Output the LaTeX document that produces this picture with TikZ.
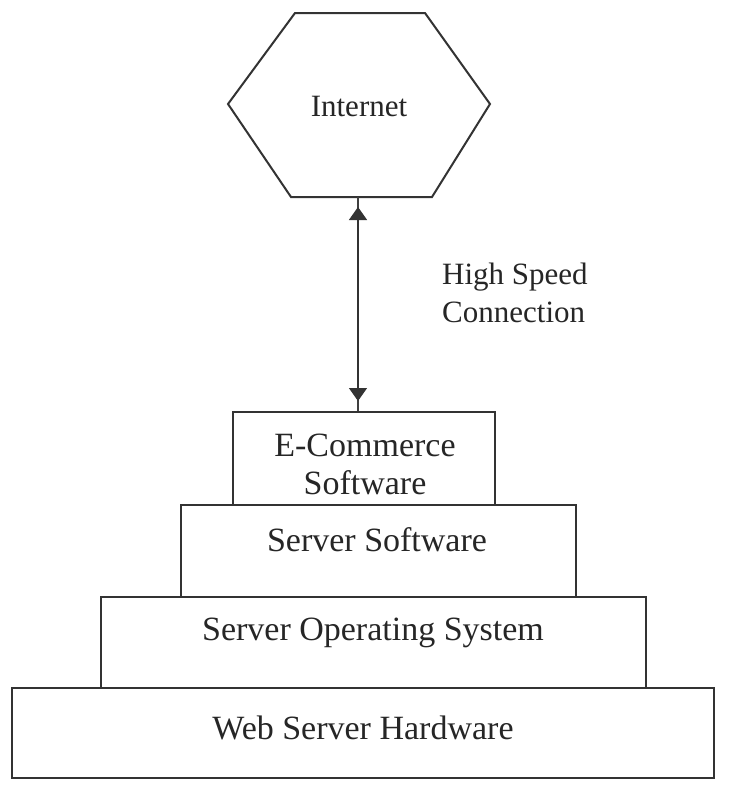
\documentclass[tikz,border=0pt]{standalone}
\usepackage{fontspec}
\setmainfont{Liberation Serif}
\usetikzlibrary{arrows.meta}
\begin{document}
\begin{tikzpicture}[x=1pt,y=-1pt,
  hexline/.style={draw=black!80, line width=2pt, line join=miter},
  layer/.style={draw=black!80, line width=2pt, rectangle, inner sep=0pt},
  lbl/.style={text=black!85, font=\fontsize{31}{38}\selectfont, align=center, inner sep=0pt},
  boxlbl/.style={lbl, font=\fontsize{34}{38}\selectfont},
  link/.style={draw=black!75, line width=1.4pt},
  tips/.style={black!80, arrows={Triangle[width=18pt,length=13pt]-Triangle[width=18pt,length=13pt]}, shorten <=10pt, shorten >=10pt}
]
\useasboundingbox (0,0) rectangle (733,788);
\fill[white] (0,0) rectangle (733,788);
% Internet hexagon
\draw[hexline] (228,104) -- (295,13) -- (425,13) -- (490,104) -- (432,197) -- (291,197) -- cycle;
\coordinate (hexbot) at (358,197);
\node[lbl] (inet) at (359,106) {Internet};
% stack of layers
\node[layer, minimum width=262pt, minimum height=93pt] (ecom) at (364,458.5) {};
\node[layer, minimum width=395pt, minimum height=92pt] (srvsw) at (378.5,551) {};
\node[layer, minimum width=545pt, minimum height=91pt] (srvos) at (373.5,642.5) {};
\node[layer, minimum width=702pt, minimum height=90pt] (hw) at (363,733) {};
\node[boxlbl] (ecomt) at (365,464) {E-Commerce\\Software};
\node[boxlbl] (srvswt) at (377,540) {Server Software};
\node[boxlbl] (srvost) at (373,633) {Server Operating System};
\node[boxlbl] (hwt) at (363,728) {Web Server Hardware};
% connection
\draw[link] (hexbot) -- (hexbot |- ecom.north);
\draw[link, tips] (hexbot) -- (hexbot |- ecom.north);
\node[lbl, align=left, anchor=west] (hsc) at (442,293) {High Speed\\Connection};
\end{tikzpicture}
\end{document}
